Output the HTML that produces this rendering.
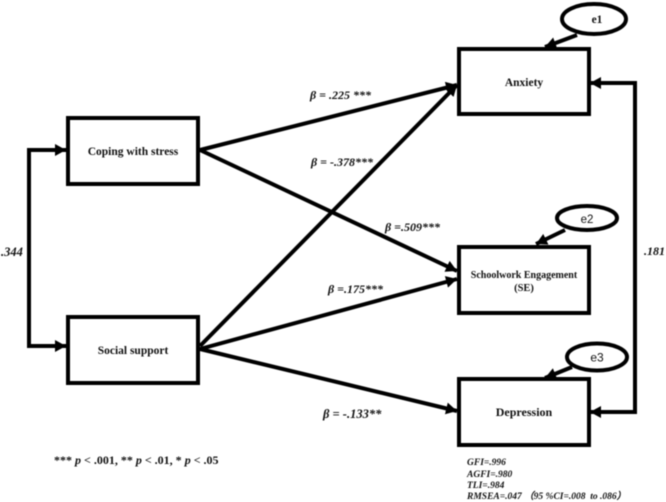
<!DOCTYPE html>
<html>
<head>
<meta charset="utf-8">
<style>
html,body{margin:0;padding:0;background:#fff;width:666px;height:502px;overflow:hidden}
svg{display:block;filter:blur(0.45px)}
text{font-family:"Liberation Serif",serif;fill:#111}
.b{font-weight:bold;font-size:11.5px;text-anchor:middle}
.i{font-weight:bold;font-style:italic;font-size:12px}
.s{font-weight:bold;font-style:italic;font-size:9.5px}
</style>
</head>
<body>
<svg width="666" height="502" viewBox="0 0 666 502" xmlns="http://www.w3.org/2000/svg">
<defs>
<marker id="a" markerUnits="userSpaceOnUse" markerWidth="13" markerHeight="13" refX="11" refY="6" orient="auto">
<path d="M0 0L11 6L0 12Z" fill="#000"/>
</marker>
</defs>
<g fill="none" stroke="#000" stroke-width="4">
<rect x="459" y="49" width="130" height="65"/>
<rect x="459" y="247" width="130" height="66"/>
<rect x="459" y="379" width="130" height="66"/>
<rect x="68" y="118" width="130" height="66"/>
<rect x="68" y="317" width="130" height="66"/>
<g stroke-width="4">
<ellipse cx="594" cy="19" rx="32" ry="15"/>
<ellipse cx="587" cy="218" rx="30" ry="12"/>
<ellipse cx="597" cy="357" rx="30" ry="13.5"/>
</g>
<path d="M200 150L457 85" marker-end="url(#a)"/>
<path d="M200 150L457 271" marker-end="url(#a)"/>
<path d="M200 346L457 85" marker-end="url(#a)"/>
<path d="M200 349L457 279" marker-end="url(#a)"/>
<path d="M200 349L457 411" marker-end="url(#a)"/>
<path d="M577 35L545 47" marker-end="url(#a)"/>
<path d="M565 230L536 244" marker-end="url(#a)"/>
<path d="M572 367L545 378" marker-end="url(#a)"/>
<path d="M66 150H29V346H66" marker-end="url(#a)"/>
<path d="M29 150H66" marker-end="url(#a)"/>
<path d="M590 83H635V412H590" marker-end="url(#a)"/>
<path d="M635 83H590" marker-end="url(#a)"/>
</g>
<text class="b" x="524" y="86">Anxiety</text>
<text class="b" x="524" y="278" style="font-size:10px">Schoolwork Engagement</text>
<text class="b" x="524" y="291" style="font-size:10.5px">(SE)</text>
<text class="b" x="524" y="416" style="font-size:12px">Depression</text>
<text class="b" x="133" y="155">Coping with stress</text>
<text class="b" x="133" y="354">Social support</text>
<text class="b" x="597" y="23">e1</text>
<text x="587" y="223" style="font-family:'Liberation Sans',sans-serif;font-size:11.5px;text-anchor:middle">e2</text>
<text x="597" y="361.5" style="font-family:'Liberation Sans',sans-serif;font-size:12px;text-anchor:middle">e3</text>
<text class="i" x="310" y="99">β = .225 ***</text>
<text class="i" x="311" y="166">β = -.378***</text>
<text class="i" x="385" y="231">β =.509***</text>
<text class="i" x="328" y="293">β =.175***</text>
<text class="i" x="323" y="418" style="font-size:12.5px">β = -.133**</text>
<text class="i" x="1" y="256" style="font-size:12.5px">.344</text>
<text class="i" x="644" y="255">.181</text>
<text x="54" y="464" style="font-size:12px;font-weight:bold">*** <tspan font-style="italic">p</tspan> &lt; .001, ** <tspan font-style="italic">p</tspan> &lt; .01, * <tspan font-style="italic">p</tspan> &lt; .05</text>
<text class="s" x="467" y="465">GFI=.996</text>
<text class="s" x="467" y="477">AGFI=.980</text>
<text class="s" x="467" y="488">TLI=.984</text>
<text class="s" x="467" y="499">RMSEA=.047 （95 %CI=.008 &#160;to .086）</text>
</svg>
</body>
</html>
